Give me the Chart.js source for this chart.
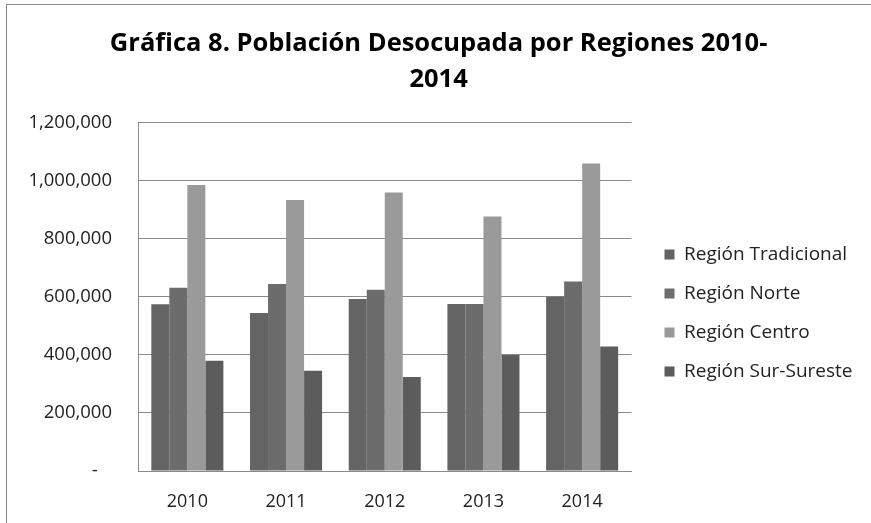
<!DOCTYPE html>
<html>
<head>
<meta charset="utf-8">
<script src="https://cdn.jsdelivr.net/npm/chart.js@4.4.1/dist/chart.umd.min.js"></script>
<style>
  body { margin: 0; background: #fff; }
  #frame {
    position: absolute;
    left: 6px;
    top: 4px;
    border-left: 1px solid #8a8a8a;
    border-top: 1px solid #8a8a8a;
  }
  canvas { display: block; }
</style>
</head>
<body>
<div id="frame">
  <canvas id="bar-graph" width="864" height="518"></canvas>
</div>
<script>
const titleLines = ["  Gráfica 8. Población Desocupada por Regiones 2010-", "  2014"];
const years = ["2010", "2011", "2012", "2013", "2014"];
const tradicional = [575000, 545000, 593000, 576000, 601000];
const norte = [632000, 645000, 625000, 576000, 653000];
const centro = [986000, 934000, 960000, 877000, 1060000];
const surSureste = [380000, 346000, 324000, 400000, 429000];
const yTicks = [0, 200000, 400000, 600000, 800000, 1000000, 1200000];

const fontName = "'Open Sans'";

const createPoblacionChart = () => {
  const ctx = document.querySelector("#bar-graph").getContext("2d");
  const chart = new Chart(ctx, {
    type: "bar",
    data: {
      labels: years,
      datasets: [
        { label: "Región Tradicional", data: tradicional, backgroundColor: "#646464" },
        { label: "Región Norte", data: norte, backgroundColor: "#6c6c6c" },
        { label: "Región Centro", data: centro, backgroundColor: "#9a9a9a" },
        { label: "Región Sur-Sureste", data: surSureste, backgroundColor: "#5c5c5c" },
      ],
    },
    options: {
      responsive: false,
      animation: false,
      layout: {
        padding: { left: 0, right: 14, top: 0, bottom: 0 },
      },
      datasets: {
        bar: {
          categoryPercentage: 0.73,
          barPercentage: 1,
        },
      },
      plugins: {
        title: {
          display: true,
          text: titleLines,
          color: "#000",
          font: { family: fontName, size: 25.5, weight: "bold", lineHeight: 1.41 },
          padding: { top: 21, bottom: 25 },
        },
        legend: {
          position: "right",
          // blank title only pushes the entries down
          title: {
            display: true,
            text: " ",
            font: { size: 12, lineHeight: 1 },
            padding: { top: 86, bottom: 0 },
          },
          labels: {
            boxWidth: 10,
            boxHeight: 10,
            padding: 20,
            color: "#222",
            font: { family: fontName, size: 19 },
          },
        },
        tooltip: { enabled: false },
      },
      scales: {
        x: {
          grid: { display: false, drawTicks: false },
          border: { color: "#8a8a8a", width: 1 },
          afterFit: (scale) => {
            scale.height = 52;
          },
          ticks: {
            color: "#222",
            padding: 20,
            font: { family: fontName, size: 18 },
          },
        },
        y: {
          min: 0,
          max: 1200000,
          afterBuildTicks: (scale) => {
            scale.ticks = yTicks.map((v) => ({ value: v }));
          },
          afterFit: (scale) => {
            scale.width = 131;
          },
          grid: { color: "#8a8a8a", lineWidth: 1, drawTicks: false },
          border: { color: "#8a8a8a", width: 1 },
          ticks: {
            color: "#222",
            padding: 26,
            font: { family: fontName, size: 18.5 },
            callback: (value) => (value === 0 ? "-   " : value.toLocaleString("en-US")),
          },
        },
        // empty gap between the plot and the legend
        gap: {
          type: "linear",
          position: "right",
          display: false,
          afterFit: (scale) => {
            scale.width = 13;
          },
        },
      },
    },
  });
};

createPoblacionChart();
</script>
</body>
</html>
